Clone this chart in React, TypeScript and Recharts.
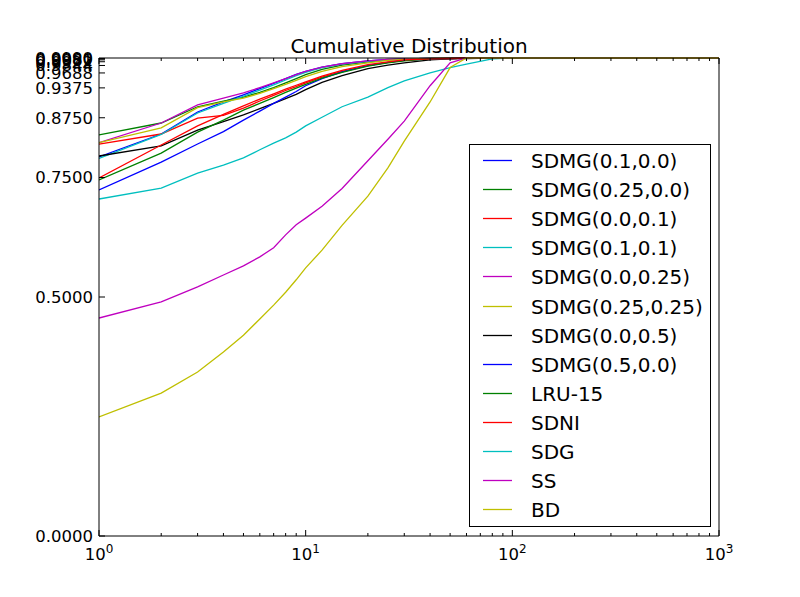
import { Line, LineChart, XAxis, YAxis } from "recharts";

const xs = [1, 2, 3, 4, 5, 6, 7, 8, 9, 10, 12, 15, 20, 25, 30, 40, 50, 60, 80, 100, 1000];

const sdmg_01_00 = [0.793, 0.841, 0.887, 0.908, 0.923, 0.936, 0.947, 0.957, 0.966, 0.972, 0.981, 0.988, 0.994, 0.997, 0.998, 0.999, 1, 1, 1, 1, 1];
const sdmg_025_00 = [0.839, 0.864, 0.898, 0.91, 0.918, 0.928, 0.938, 0.948, 0.957, 0.965, 0.976, 0.985, 0.992, 0.996, 0.998, 0.999, 1, 1, 1, 1, 1];
const sdmg_00_01 = [0.82, 0.841, 0.874, 0.88, 0.895, 0.91, 0.922, 0.932, 0.94, 0.948, 0.96, 0.972, 0.984, 0.991, 0.995, 0.998, 0.999, 1, 1, 1, 1];
const sdmg_01_01 = [0.79, 0.84, 0.885, 0.905, 0.92, 0.933, 0.944, 0.954, 0.963, 0.97, 0.98, 0.987, 0.993, 0.996, 0.998, 0.999, 1, 1, 1, 1, 1];
const sdmg_00_025 = [0.823, 0.864, 0.902, 0.916, 0.927, 0.938, 0.948, 0.957, 0.965, 0.972, 0.981, 0.988, 0.994, 0.997, 0.998, 0.999, 1, 1, 1, 1, 1];
const sdmg_025_025 = [0.823, 0.854, 0.896, 0.908, 0.916, 0.926, 0.936, 0.945, 0.953, 0.961, 0.972, 0.982, 0.99, 0.995, 0.997, 0.999, 1, 1, 1, 1, 1];
const sdmg_00_05 = [0.795, 0.816, 0.849, 0.867, 0.881, 0.894, 0.905, 0.915, 0.924, 0.934, 0.949, 0.963, 0.978, 0.985, 0.99, 0.996, 0.998, 0.999, 1, 1, 1];
const sdmg_05_00 = [0.724, 0.782, 0.82, 0.846, 0.87, 0.889, 0.905, 0.918, 0.93, 0.942, 0.957, 0.971, 0.984, 0.991, 0.995, 0.998, 0.999, 1, 1, 1, 1];
const lru15 = [0.745, 0.801, 0.845, 0.87, 0.891, 0.905, 0.917, 0.928, 0.937, 0.945, 0.958, 0.97, 0.983, 0.99, 0.994, 0.998, 0.999, 1, 1, 1, 1];
const sdni = [0.749, 0.818, 0.858, 0.882, 0.9, 0.914, 0.925, 0.935, 0.943, 0.95, 0.962, 0.974, 0.986, 0.992, 0.996, 0.998, 0.999, 1, 1, 1, 1];
const sdg = [0.705, 0.728, 0.759, 0.776, 0.791, 0.808, 0.822, 0.833, 0.845, 0.858, 0.876, 0.898, 0.918, 0.938, 0.952, 0.969, 0.98, 0.987, 0.998, 1, 1];
const ss = [0.456, 0.49, 0.521, 0.546, 0.565, 0.584, 0.603, 0.63, 0.651, 0.665, 0.69, 0.727, 0.785, 0.83, 0.868, 0.942, 0.99, 1, 1, 1, 1];
const bd = [0.249, 0.299, 0.343, 0.385, 0.42, 0.454, 0.483, 0.51, 0.536, 0.561, 0.598, 0.65, 0.711, 0.77, 0.826, 0.908, 0.98, 1, 1, 1, 1];

const series = [
  { name: "SDMG(0.1,0.0)", color: "#0000ff", values: sdmg_01_00 },
  { name: "SDMG(0.25,0.0)", color: "#008000", values: sdmg_025_00 },
  { name: "SDMG(0.0,0.1)", color: "#ff0000", values: sdmg_00_01 },
  { name: "SDMG(0.1,0.1)", color: "#00bfbf", values: sdmg_01_01 },
  { name: "SDMG(0.0,0.25)", color: "#bf00bf", values: sdmg_00_025 },
  { name: "SDMG(0.25,0.25)", color: "#bfbf00", values: sdmg_025_025 },
  { name: "SDMG(0.0,0.5)", color: "#000000", values: sdmg_00_05 },
  { name: "SDMG(0.5,0.0)", color: "#0000ff", values: sdmg_05_00 },
  { name: "LRU-15", color: "#008000", values: lru15 },
  { name: "SDNI", color: "#ff0000", values: sdni },
  { name: "SDG", color: "#00bfbf", values: sdg },
  { name: "SS", color: "#bf00bf", values: ss },
  { name: "BD", color: "#bfbf00", values: bd },
];

// y ticks: 1 - 2^-k
const yTicks = [0, 0.5, 0.75, 0.875, 0.9375, 0.96875, 0.984375, 0.9921875, 0.99609375, 0.998046875, 0.9990234375];
const xMajor = [1, 10, 100, 1000];
const xTicks = [1, 2, 3, 4, 5, 6, 7, 8, 9, 10, 20, 30, 40, 50, 60, 70, 80, 90, 100, 200, 300, 400, 500, 600, 700, 800, 900, 1000];

const data = xs.map((x, i) => {
  const row: Record<string, number> = { x };
  series.forEach((s, j) => {
    row["s" + j] = s.values[i];
  });
  return row;
});

const FONT = "DejaVu Sans";

function BottomTick({ x, y, payload }: any) {
  const v = payload.value;
  const major = xMajor.includes(v);
  return (
    <g>
      <line x1={x} x2={x} y1={y} y2={y - (major ? 6 : 3)} stroke="#000" />
      {major && (
        <text x={x} y={y + 24} textAnchor="middle" fontFamily={FONT} fontSize={16.5} fill="#000">
          <tspan>10</tspan>
          <tspan dy={-7} fontSize={12}>{Math.round(Math.log10(v))}</tspan>
        </text>
      )}
    </g>
  );
}

function TopTick({ x, y, payload }: any) {
  const major = xMajor.includes(payload.value);
  return <line x1={x} x2={x} y1={y} y2={y + (major ? 6 : 3)} stroke="#000" />;
}

function LeftTick({ x, y, payload }: any) {
  return (
    <g>
      <line x1={x} x2={x + 6} y1={y} y2={y} stroke="#000" />
      <text x={x - 6} y={y} dy="0.36em" textAnchor="end" fontFamily={FONT} fontSize={16.5} fill="#000">
        {payload.value.toFixed(4)}
      </text>
    </g>
  );
}

function RightTick({ x, y }: any) {
  return <line x1={x} x2={x - 6} y1={y} y2={y} stroke="#000" />;
}

export default function App() {
  return (
    <div style={{ position: "absolute", left: 0, top: 0, width: 800, height: 597, background: "#fff" }}>
      <LineChart width={800} height={597} data={data} margin={{ top: 0, right: 0, bottom: 0, left: 0 }}>
        <XAxis
          dataKey="x"
          type="number"
          scale="log"
          domain={[1, 1000]}
          allowDataOverflow
          ticks={xTicks}
          interval={0}
          height={61}
          tickSize={0}
          tickMargin={0}
          tickLine={false}
          axisLine={{ stroke: "#000" }}
          tick={<BottomTick />}
        />
        <XAxis
          xAxisId="top"
          orientation="top"
          dataKey="x"
          type="number"
          scale="log"
          domain={[1, 1000]}
          allowDataOverflow
          ticks={xTicks}
          interval={0}
          height={58}
          tickSize={0}
          tickMargin={0}
          tickLine={false}
          axisLine={{ stroke: "#000" }}
          tick={<TopTick />}
        />
        <YAxis
          type="number"
          domain={[0, 1]}
          ticks={yTicks}
          interval={0}
          width={99}
          tickSize={0}
          tickMargin={0}
          tickLine={false}
          axisLine={{ stroke: "#000" }}
          tick={<LeftTick />}
        />
        <YAxis
          yAxisId="right"
          orientation="right"
          type="number"
          domain={[0, 1]}
          ticks={yTicks}
          interval={0}
          width={81}
          tickSize={0}
          tickMargin={0}
          tickLine={false}
          axisLine={{ stroke: "#000" }}
          tick={<RightTick />}
        />
        {series.map((s, j) => (
          <Line
            key={s.name}
            dataKey={"s" + j}
            name={s.name}
            type="linear"
            stroke={s.color}
            strokeWidth={1.3}
            dot={false}
            isAnimationActive={false}
          />
        ))}
      </LineChart>
      <svg width={800} height={597} style={{ position: "absolute", left: 0, top: 0, pointerEvents: "none" }}>
        <text x={409} y={53} textAnchor="middle" fontFamily={FONT} fontSize={20} fill="#000">
          Cumulative Distribution
        </text>
        <rect x={469.5} y={144.5} width={241} height={382} fill="#fff" stroke="#000" />
        {series.map((s, i) => {
          const cy = Math.round(160 + i * 29.1) + 0.5;
          return (
            <g key={s.name}>
              <line x1={483} x2={512} y1={cy} y2={cy} stroke={s.color} strokeWidth={1.3} />
              <text x={531} y={cy} dy="0.36em" fontFamily={FONT} fontSize={20} fill="#000">
                {s.name}
              </text>
            </g>
          );
        })}
      </svg>
    </div>
  );
}
